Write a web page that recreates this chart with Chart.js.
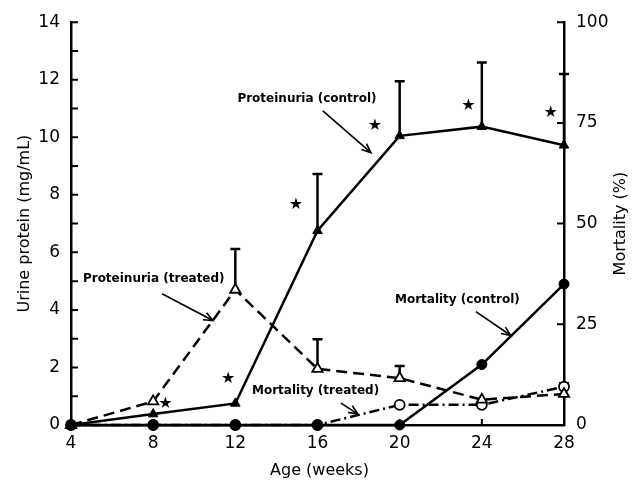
<!DOCTYPE html>
<html>
<head>
<meta charset="utf-8">
<script src="https://cdn.jsdelivr.net/npm/chart.js@4.4.0/dist/chart.umd.min.js"></script>
<style>
  body { margin: 0; background: #fff; }
  #chart { display: block; }
</style>
</head>
<body>
<canvas id="chart" width="633" height="480"></canvas>
<script>
var weeks = [4, 8, 12, 16, 20, 24, 28];
var protControl = [0, 0.38, 0.75, 6.75, 10.05, 10.37, 9.72];
var protControlErr = [null, null, null, 8.72, 11.95, 12.6, 12.2];
var protTreated = [0, 0.82, 4.7, 1.95, 1.63, 0.88, 1.08];
var protTreatedErr = [null, null, 6.12, 2.98, 2.05, null, 1.45];
var mortControl = [0, 0, 0, 0, 0, 15, 35];
var mortTreated = [0, 0, 0, 0, 5, 5, 9.5];

var xTicks = [4, 8, 12, 16, 20, 24, 28];
var leftTicks = [0, 2, 4, 6, 8, 10, 12, 14];
var leftMinor = [1, 3, 5, 7, 9, 11, 13];
var rightTicks = [0, 25, 50, 75, 100];

// significance stars (weeks, mg/mL)
var starX = [8.6, 11.65, 14.95, 18.8, 23.35, 27.35];
var starY = [0.73, 1.62, 7.64, 10.4, 11.1, 10.85];

// labels with arrows, in weeks / mg/mL
var notes = [
    {text: 'Proteinuria (control)', x: 12.1, y: 11.34, from: [16.26, 10.92], to: [18.6, 9.47]},
    {text: 'Proteinuria (treated)', x: 4.58, y: 5.08, from: [8.43, 4.56], to: [10.91, 3.63]},
    {text: 'Mortality (control)', x: 19.77, y: 4.36, from: [23.71, 3.94], to: [25.41, 3.11]},
    {text: 'Mortality (treated)', x: 12.81, y: 1.18, from: [17.14, 0.76], to: [17.97, 0.38]}
];

function pts(ys) {
    return weeks.map(function (w, i) { return {x: w, y: ys[i]}; });
}

var fontFamily = '"DejaVu Sans", sans-serif';

var extras = {
    id: 'extras',
    beforeDatasetsDraw: function (chart) {
        var ctx = chart.ctx;
        var xs = chart.scales.x, ys = chart.scales.y;
        ctx.save();
        ctx.strokeStyle = '#000';
        ctx.lineWidth = 2.5;
        [[protControl, protControlErr], [protTreated, protTreatedErr]].forEach(function (pair) {
            weeks.forEach(function (w, i) {
                if (pair[1][i] == null) return;
                var px = xs.getPixelForValue(w);
                var y0 = ys.getPixelForValue(pair[0][i]);
                var y1 = ys.getPixelForValue(pair[1][i]);
                ctx.beginPath();
                ctx.moveTo(px, y0);
                ctx.lineTo(px, y1);
                ctx.moveTo(px - 5, y1);
                ctx.lineTo(px + 5, y1);
                ctx.stroke();
            });
        });
        ctx.restore();
    },
    afterDraw: function (chart) {
        var ctx = chart.ctx;
        var xs = chart.scales.x, ys = chart.scales.y, ys2 = chart.scales.y2;
        var area = chart.chartArea;
        ctx.save();
        ctx.strokeStyle = '#000';
        ctx.fillStyle = '#000';

        // inward ticks
        ctx.lineWidth = 2;
        ctx.beginPath();
        leftTicks.concat(leftMinor).forEach(function (v) {
            var py = ys.getPixelForValue(v);
            ctx.moveTo(area.left, py);
            ctx.lineTo(area.left + 7, py);
        });
        rightTicks.forEach(function (v) {
            var py = ys2.getPixelForValue(v);
            ctx.moveTo(area.right, py);
            ctx.lineTo(area.right - 7, py);
        });
        xTicks.slice(1, -1).forEach(function (v) {
            var px = xs.getPixelForValue(v);
            ctx.moveTo(px, area.bottom);
            ctx.lineTo(px, area.bottom - 6);
        });
        ctx.stroke();

        // stars
        ctx.font = '16px ' + fontFamily;
        ctx.textAlign = 'center';
        ctx.textBaseline = 'middle';
        starX.forEach(function (sx, i) {
            ctx.fillText('\u2605', xs.getPixelForValue(sx), ys.getPixelForValue(starY[i]));
        });

        // notes with arrows
        ctx.font = 'bold 12px ' + fontFamily;
        ctx.textAlign = 'left';
        ctx.lineWidth = 1.6;
        notes.forEach(function (n) {
            ctx.fillText(n.text, xs.getPixelForValue(n.x), ys.getPixelForValue(n.y));
            var x0 = xs.getPixelForValue(n.from[0]), y0 = ys.getPixelForValue(n.from[1]);
            var x1 = xs.getPixelForValue(n.to[0]), y1 = ys.getPixelForValue(n.to[1]);
            var a = Math.atan2(y1 - y0, x1 - x0);
            ctx.beginPath();
            ctx.moveTo(x0, y0);
            ctx.lineTo(x1, y1);
            ctx.moveTo(x1 - 10 * Math.cos(a - 0.4), y1 - 10 * Math.sin(a - 0.4));
            ctx.lineTo(x1, y1);
            ctx.lineTo(x1 - 10 * Math.cos(a + 0.4), y1 - 10 * Math.sin(a + 0.4));
            ctx.stroke();
        });

        // axis titles
        var midY = (area.top + area.bottom) / 2;
        ctx.font = '16px ' + fontFamily;
        ctx.textAlign = 'center';
        ctx.fillText('Age (weeks)', (area.left + area.right) / 2 + 2, area.bottom + 46);
        ctx.save();
        ctx.translate(area.left - 46, midY);
        ctx.rotate(-Math.PI / 2);
        ctx.fillText('Urine protein (mg/mL)', 0, 0);
        ctx.restore();
        ctx.save();
        ctx.translate(area.right + 57, midY);
        ctx.rotate(-Math.PI / 2);
        ctx.fillText('Mortality (%)', 0, 0);
        ctx.restore();

        ctx.restore();
    }
};

var ctx = document.getElementById('chart').getContext('2d');
var chart = new Chart(ctx, {
    type: 'line',
    data: {
        datasets: [
            {
                // mortality control
                data: pts(mortControl),
                yAxisID: 'y2',
                clip: false,
                borderColor: '#000',
                borderWidth: 2.5,
                pointStyle: 'circle',
                pointRadius: 5,
                pointBackgroundColor: '#000',
                pointBorderColor: '#000',
                pointBorderWidth: 1
            },
            {
                data: pts(protControl),
                yAxisID: 'y',
                clip: false,
                borderColor: '#000',
                borderWidth: 2.5,
                pointStyle: 'triangle',
                pointRadius: 5.5,
                pointBackgroundColor: '#000',
                pointBorderColor: '#000',
                pointBorderWidth: 1
            },
            {
                data: pts(protTreated),
                yAxisID: 'y',
                clip: false,
                borderColor: '#000',
                borderWidth: 2.5,
                borderDash: [11, 6],
                pointStyle: 'triangle',
                pointRadius: 6,
                pointBackgroundColor: '#fff',
                pointBorderColor: '#000',
                pointBorderWidth: 1.8
            },
            {
                data: pts(mortTreated),
                yAxisID: 'y2',
                clip: false,
                borderColor: '#000',
                borderWidth: 2.5,
                borderDash: [10, 4, 2, 4],
                pointStyle: 'circle',
                pointRadius: 5,
                pointBackgroundColor: '#fff',
                pointBorderColor: '#000',
                pointBorderWidth: 1.8
            }
        ]
    },
    options: {
        responsive: false,
        animation: false,
        layout: { padding: { top: 19 } },
        plugins: { legend: { display: false }, tooltip: { enabled: false } },
        elements: { line: { tension: 0 } },
        scales: {
            x: {
                type: 'linear',
                min: 4,
                max: 28,
                afterFit: function (s) { s.height = 55; },
                afterBuildTicks: function (s) { s.ticks = xTicks.map(function (v) { return {value: v}; }); },
                grid: { display: false, drawTicks: false },
                border: { display: true, color: '#000', width: 2.5 },
                ticks: { color: '#000', padding: 8, maxRotation: 0, font: { family: fontFamily, size: 17 } }
            },
            y: {
                position: 'left',
                min: 0,
                max: 14,
                afterFit: function (s) { s.width = 71; },
                afterBuildTicks: function (s) { s.ticks = leftTicks.map(function (v) { return {value: v}; }); },
                grid: { display: false, drawTicks: false },
                border: { display: true, color: '#000', width: 2.5 },
                ticks: { color: '#000', padding: 11, font: { family: fontFamily, size: 17 } }
            },
            y2: {
                position: 'right',
                min: 0,
                max: 100,
                afterFit: function (s) { s.width = 69; },
                afterBuildTicks: function (s) { s.ticks = rightTicks.map(function (v) { return {value: v}; }); },
                grid: { display: false, drawTicks: false },
                border: { display: true, color: '#000', width: 2.5 },
                ticks: { color: '#000', padding: 12, font: { family: fontFamily, size: 17 } }
            }
        }
    },
    plugins: [extras]
});
</script>
</body>
</html>
